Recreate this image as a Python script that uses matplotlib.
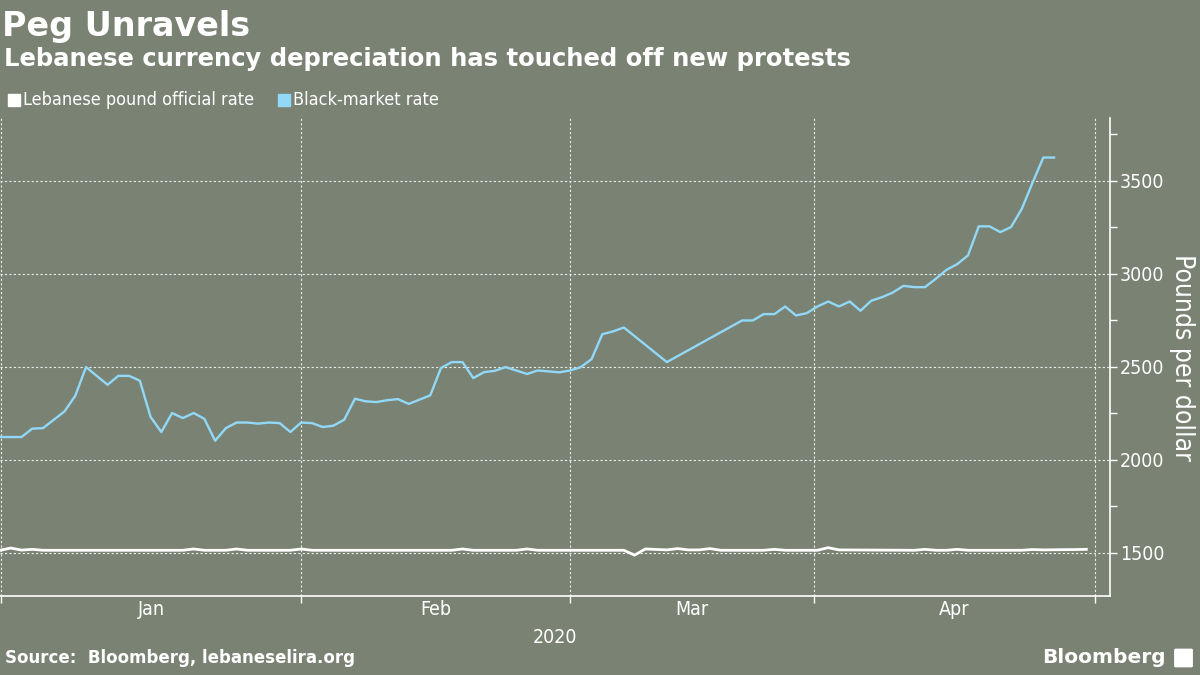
import matplotlib
matplotlib.use('Agg')
import matplotlib.pyplot as plt
from matplotlib.ticker import MultipleLocator
from matplotlib.patches import FancyBboxPatch

# observation index (trading days on the chart) and rates, pounds per dollar
bm_idx = [0, 2, 3, 4, 6, 7, 8, 10, 11, 12, 13, 14, 15, 16, 17, 18, 19, 20,
          21, 22, 23, 24, 25, 26, 27, 28, 29, 30, 31, 32, 33, 34, 35, 36, 37,
          38, 40, 41, 42, 43, 44, 45, 46, 47, 48, 49, 50, 51, 52, 53, 54, 55,
          56, 57, 58, 62, 69, 70, 71, 72, 73, 74, 75, 76, 77, 78, 79, 80, 81,
          82, 83, 84, 85, 86, 87, 88, 89, 90, 91, 92, 93, 94, 95, 96, 97, 98]
bm_val = [2122, 2122, 2167, 2170, 2260, 2344, 2498, 2403, 2451, 2451, 2425,
          2230, 2149, 2251, 2224, 2251, 2220, 2102, 2170, 2200, 2200, 2194,
          2200, 2197, 2149, 2200, 2197, 2176, 2183, 2215, 2328, 2314, 2310,
          2320, 2326, 2300, 2346, 2493, 2525, 2525, 2439, 2471, 2478, 2498,
          2480, 2461, 2480, 2475, 2470, 2480, 2498, 2541, 2675, 2690, 2711,
          2525, 2749, 2749, 2783, 2783, 2824, 2776, 2788, 2824, 2851, 2824,
          2851, 2801, 2855, 2874, 2899, 2935, 2928, 2928, 2973, 3021, 3052,
          3099, 3255, 3255, 3224, 3251, 3349, 3490, 3625, 3625]

off_idx = [0, 1, 2, 3, 4, 17, 18, 19, 21, 22, 23, 27, 28, 29, 42, 43, 44, 48,
           49, 50, 58, 59, 60, 62, 63, 64, 65, 66, 67, 71, 72, 73, 76, 77, 78,
           85, 86, 87, 88, 89, 90, 95, 96, 97, 100, 101]
off_val = [1513, 1525, 1514, 1518, 1513, 1513, 1520, 1513, 1513, 1520, 1513,
           1513, 1520, 1513, 1513, 1520, 1513, 1513, 1520, 1513, 1513, 1487,
           1520, 1515, 1522, 1515, 1515, 1522, 1513, 1513, 1518, 1513, 1513,
           1527, 1515, 1513, 1518, 1513, 1513, 1518, 1513, 1513, 1517, 1515,
           1517, 1518]

month_pos = [0.1, 28.0, 53.0, 75.7, 101.8]
month_names = ['Jan', 'Feb', 'Mar', 'Apr']
year_label = '2020'
yticks = [1500, 2000, 2500, 3000, 3500]

bg = '#7a8373'
blue = '#92d8f8'
cond = dict(family='DejaVu Sans', stretch='condensed')

fig = plt.figure(figsize=(12, 6.75), dpi=100, facecolor=bg)
ax = fig.add_axes([0, 0.117, 0.925, 0.708], facecolor=bg)

ax.plot(off_idx, off_val, color='white', linewidth=2.0, solid_joinstyle='round')
ax.plot(bm_idx, bm_val, color=blue, linewidth=1.7, solid_joinstyle='round')

ax.set_xlim(0, 103.2)
ax.set_ylim(1267, 3837)

for s in ['left', 'top']:
    ax.spines[s].set_visible(False)
for s in ['right', 'bottom']:
    ax.spines[s].set_color('white')
    ax.spines[s].set_linewidth(1.2)

ax.yaxis.tick_right()
ax.yaxis.set_label_position('right')
ax.set_yticks(yticks)
ax.set_yticklabels([str(v) for v in yticks], **cond)
ax.yaxis.set_minor_locator(MultipleLocator(250))
ax.tick_params(axis='y', which='major', colors='white', length=5, width=1,
               labelsize=14, pad=2)
ax.tick_params(axis='y', which='minor', colors='white', length=5, width=1)

ax.set_xticks(month_pos)
ax.set_xticklabels([''] * len(month_pos))
mids = [(a + b) / 2 for a, b in zip(month_pos[:-1], month_pos[1:])]
ax.set_xticks(mids, minor=True)
ax.set_xticklabels(month_names, minor=True, **cond)
ax.tick_params(axis='x', which='major', colors='white', length=5, width=1)
ax.tick_params(axis='x', which='minor', colors='white', length=0,
               labelsize=14, pad=3)

ax.set_xlabel(year_label, color='white', fontsize=14, labelpad=6, **cond)
ax.set_ylabel('Pounds per dollar', color='white', fontsize=19, rotation=270,
              labelpad=22, **cond)

ax.grid(True, which='major', color='white', linestyle=(0, (2, 2)),
        linewidth=0.8, alpha=0.85)
ax.set_axisbelow(True)

# titles
fig.text(0.002, 0.985, 'Peg Unravels', color='white', fontsize=24,
         fontweight='bold', va='top', ha='left')
fig.text(0.003, 0.93, 'Lebanese currency depreciation has touched off new protests',
         color='white', fontsize=17.5, fontweight='bold', va='top', ha='left')

# legend
fig.patches.append(plt.Rectangle((8 / 1200, 1 - 106 / 675), 12 / 1200, 12 / 675,
                                 transform=fig.transFigure, color='white'))
fig.text(23 / 1200, 1 - 100 / 675, 'Lebanese pound official rate', color='white',
         fontsize=13, va='center', ha='left', **cond)
fig.patches.append(plt.Rectangle((278 / 1200, 1 - 106 / 675), 12 / 1200, 12 / 675,
                                 transform=fig.transFigure, color=blue))
fig.text(293 / 1200, 1 - 100 / 675, 'Black-market rate', color='white',
         fontsize=13, va='center', ha='left', **cond)

# footer
fig.text(0.004, 0.012, 'Source:  Bloomberg, lebaneselira.org', color='white',
         fontsize=12, fontweight='bold', va='bottom', ha='left')
fig.text(1166 / 1200, 0.012, 'Bloomberg', color='white', fontsize=14.5,
         fontweight='bold', va='bottom', ha='right')
fig.patches.append(FancyBboxPatch((1176 / 1200, 9 / 675), 15 / 1200, 16 / 675,
                                  boxstyle='round,pad=0.001',
                                  transform=fig.transFigure, color='white'))

fig.savefig('out.png', dpi=100, facecolor=bg)
